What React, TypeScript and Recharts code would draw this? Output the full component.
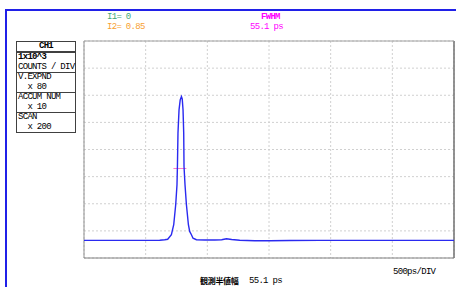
import React from "react";
import { LineChart, Line, XAxis, YAxis, CartesianGrid, ReferenceLine } from "recharts";

// time axis in ps (500 ps / DIV, 12 div), counts (1x10^3 / DIV, 8 div)
const timePs = [0, 741, 1228, 1309, 1357, 1417, 1455, 1487, 1508, 1515, 1524, 1541, 1560, 1580, 1593, 1606, 1617, 1622, 1638, 1661, 1693, 1714, 1742, 1768, 1823, 1957, 2120, 2233, 2309, 2395, 2525, 2768, 3012, 3336, 3823, 5120, 6000];
const counts = [648, 648, 655, 674, 692, 858, 1226, 1963, 2699, 3373, 4603, 5460, 5829, 5950, 5865, 5460, 4603, 3373, 2699, 1963, 1226, 979, 858, 729, 674, 663, 663, 674, 711, 681, 655, 637, 637, 644, 648, 648, 648];

const xTicks = [0, 500, 1000, 1500, 2000, 2500, 3000, 3500, 4000, 4500, 5000, 5500, 6000];
const yTicks = [0, 1000, 2000, 3000, 4000, 5000, 6000, 7000, 8000];

const halfMax = 3300;
const halfStart = 1450;
const halfEnd = 1660;

const boxRows = [
  ["1x10^3", "COUNTS / DIV"],
  ["V.EXPND", "  x 80"],
  ["ACCUM NUM", "  x 10"],
  ["SCAN", "  x 200"],
];

const data = timePs.map((t, i) => ({ t, c: counts[i] }));

const font: React.CSSProperties = {
  fontFamily: "'Liberation Mono', monospace",
  fontSize: 9,
  letterSpacing: -0.7,
  lineHeight: "10px",
  whiteSpace: "pre",
  position: "absolute",
  color: "#000",
};

export default function App() {
  return (
    <div style={{ position: "absolute", left: 0, top: 0, width: 456, height: 287, background: "#fff", overflow: "hidden" }}>
      <div style={{ position: "absolute", left: 5, top: 9, width: 460, height: 290, borderTop: "2px solid #2020e8", borderLeft: "2px solid #2020e8" }} />
      <LineChart width={456} height={287} data={data} margin={{ top: 41, right: 2, left: 84, bottom: 29 }}>
        <CartesianGrid stroke="#d0d0d0" strokeDasharray="2 2" />
        <XAxis dataKey="t" type="number" domain={[0, 6000]} ticks={xTicks} hide />
        <YAxis type="number" domain={[0, 8000]} ticks={yTicks} hide />
        <ReferenceLine x={0} stroke="#909090" />
        <ReferenceLine x={6000} stroke="#707070" strokeWidth={1.5} />
        <ReferenceLine y={8000} stroke="#a0a0a0" />
        <ReferenceLine y={0} stroke="#808080" />
        <ReferenceLine segment={[{ x: halfStart, y: halfMax }, { x: halfEnd, y: halfMax }]} stroke="#ff77cc" />
        <Line type="linear" dataKey="c" stroke="#2a2af0" strokeWidth={1.4} dot={false} isAnimationActive={false} />
      </LineChart>

      <div style={{ ...font, left: 107, top: 12, color: "#40a878" }}>I1= 0</div>
      <div style={{ ...font, left: 107, top: 22, color: "#f8a030" }}>I2= 0.85</div>
      <div style={{ ...font, left: 261, top: 12, color: "#ff00ff", fontWeight: "bold" }}>FWHM</div>
      <div style={{ ...font, left: 250, top: 22, color: "#ff00ff" }}>55.1 ps</div>

      <div style={{ position: "absolute", left: 16, top: 41, width: 58, border: "1px solid #404040", background: "#fff" }}>
        <div style={{ ...font, position: "relative", textAlign: "center", borderBottom: "2px solid #404040", height: 9, lineHeight: "9px", fontWeight: "bold" }}>CH1</div>
        {boxRows.map((r, i) => (
          <div key={i} style={{ borderTop: i > 0 ? "1px solid #404040" : "none", padding: "0 0 0 1px" }}>
            <div style={{ ...font, position: "relative", lineHeight: "9px", fontWeight: i === 0 ? "bold" : "normal" }}>{r[0]}</div>
            <div style={{ ...font, position: "relative", lineHeight: "10px" }}>{r[1]}</div>
          </div>
        ))}
      </div>

      <div style={{ ...font, left: 393, top: 267 }}>500ps/DIV</div>
      <div style={{ ...font, left: 200, top: 276, fontFamily: "'Noto Sans CJK JP', sans-serif", fontSize: 8, letterSpacing: -0.3, fontWeight: "bold" }}>観測半値幅</div>
      <div style={{ ...font, left: 249, top: 276 }}>55.1 ps</div>
    </div>
  );
}
